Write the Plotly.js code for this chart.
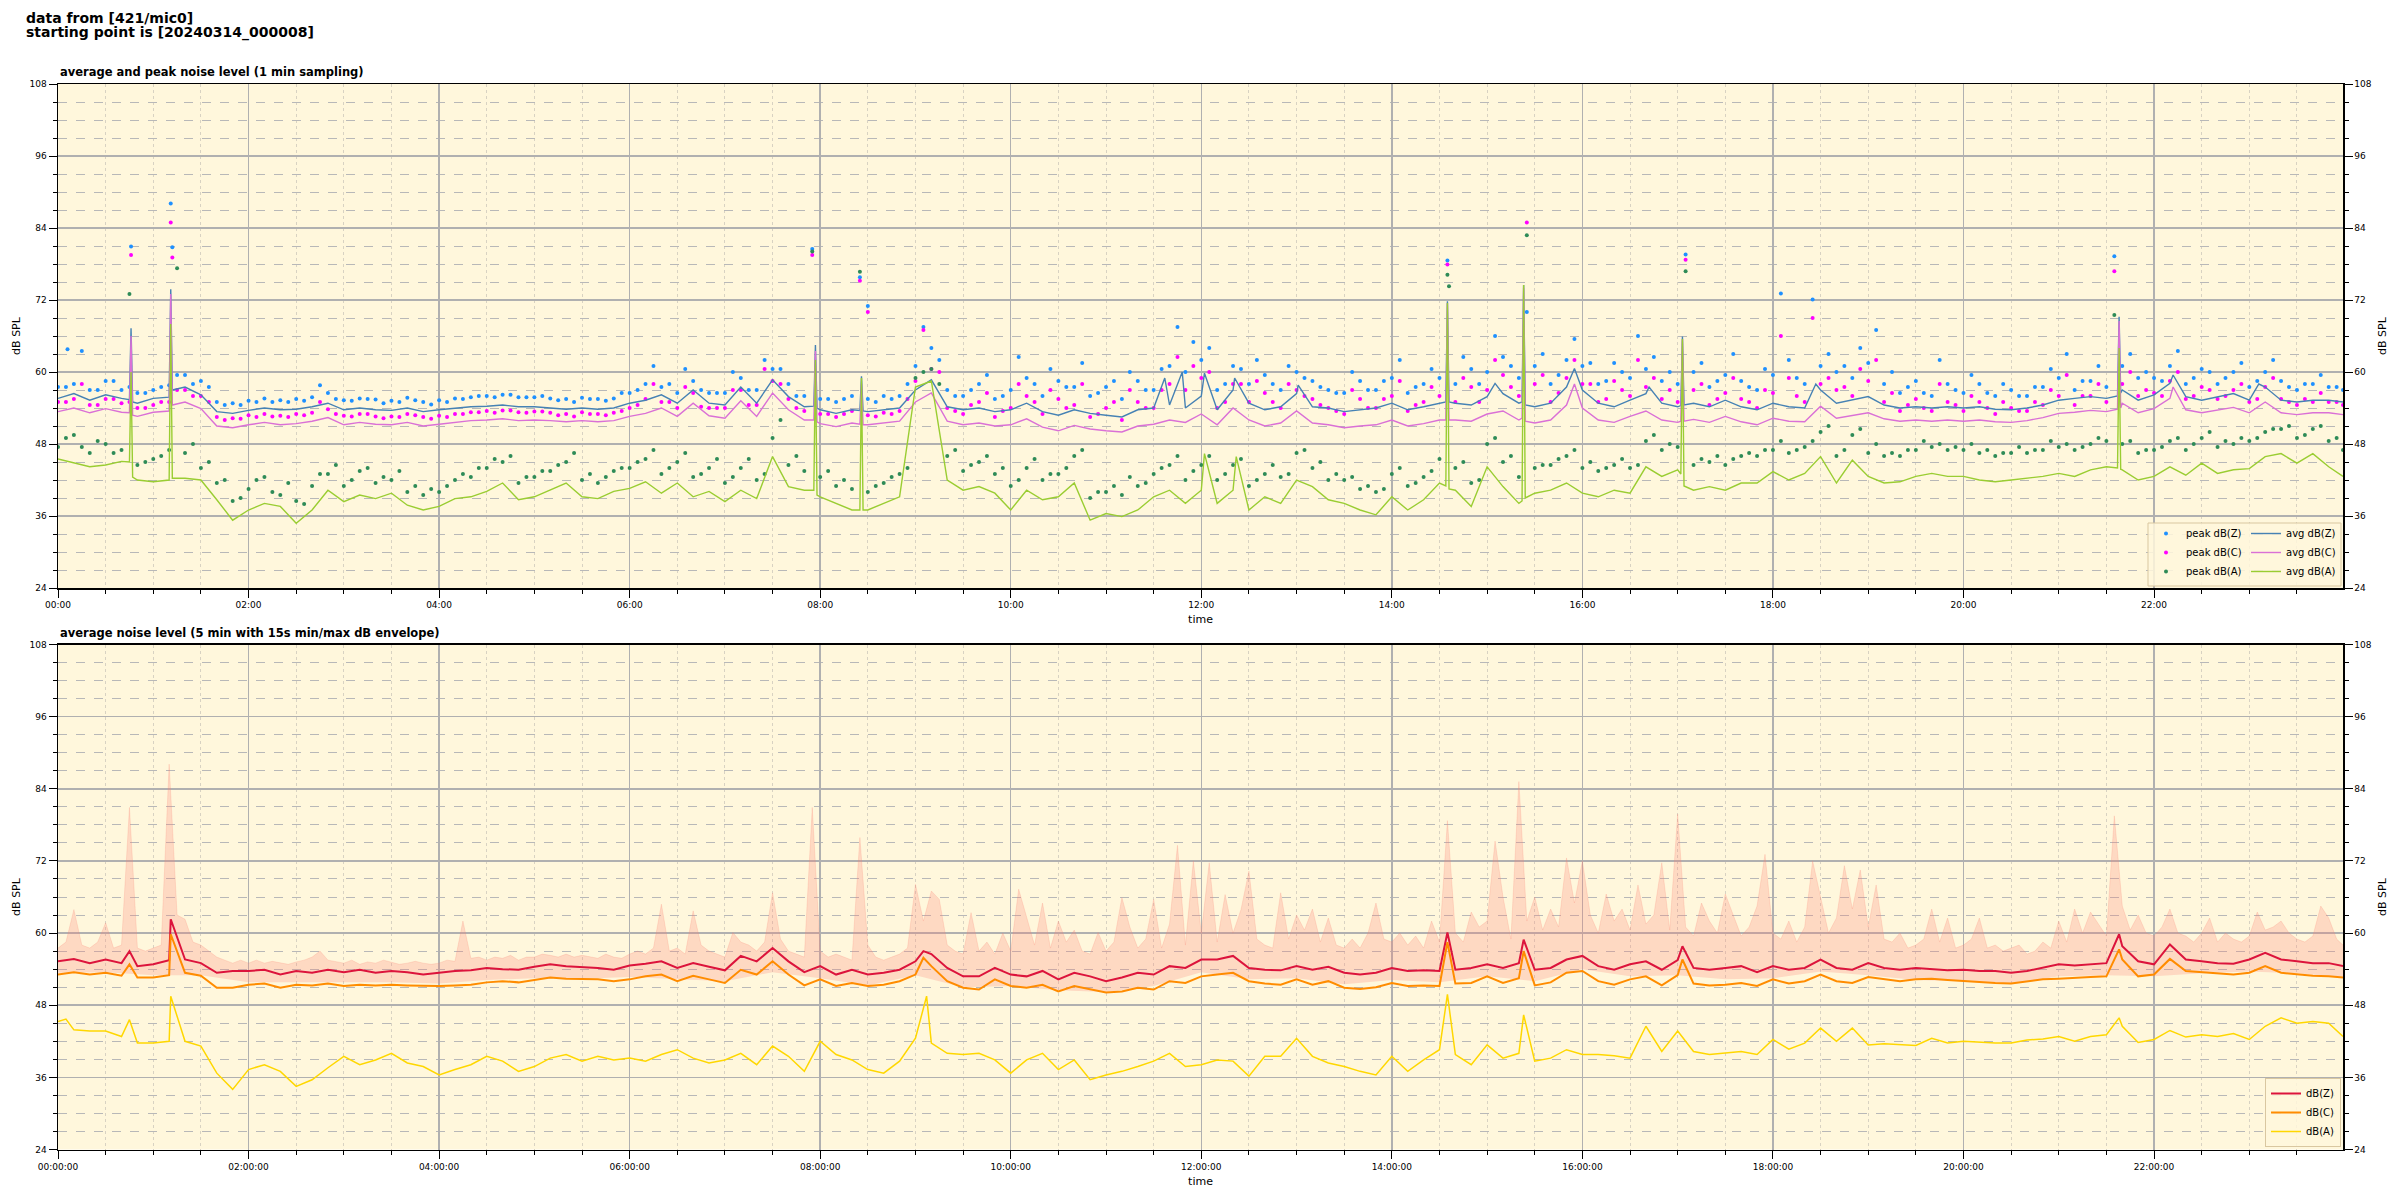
<!DOCTYPE html>
<html>
<head>
<meta charset="utf-8">
<script src="https://cdn.plot.ly/plotly-3.0.1.min.js"></script>
<style>html,body{margin:0;padding:0;background:#fff;}#chart{width:2400px;height:1200px;}</style>
</head>
<body>
<div id="chart"></div>
<script>
// ---------- DATA ----------
const DAY = '2024-03-14';
const suptitleLines = ['data from [421/mic0]', 'starting point is [20240314_000008]'];
const topTitle = 'average and peak noise level (1 min sampling)';
const botTitle = 'average noise level (5 min with 15s min/max dB envelope)';
const yTicks = [24, 36, 48, 60, 72, 84, 96, 108];

// --- top panel: 1-minute averages, sampled every 10 min (00:00 ... 23:50, 23:59)
const avgZ = [
 55.6,56.4,55.3,56.2,55.6,54.8, 55.6,55.8,57.5,56.2,53.4,53.1,
 53.6,54.0,53.7,53.8,54.2,54.8, 53.7,54.0,53.7,53.6,54.0,53.4,
 53.7,54.0,54.2,54.3,54.5,54.2, 54.2,54.0,53.8,54.0,53.8,54.0,
 54.8,55.3,56.2,54.8,57.0,54.8, 54.5,57.5,54.8,58.7,55.9,54.2,
 53.7,53.1,53.7,53.4,53.7,54.0, 57.0,58.7,54.2,53.7,54.0,53.4,
 53.7,54.8,53.4,52.8,53.7,53.1, 52.8,52.5,53.7,54.0,54.5,54.0,
 56.0,53.7,57.0,54.8,53.7,54.2, 56.4,54.2,54.0,53.4,53.7,54.0,
 54.8,53.7,54.2,54.8,54.8,54.5, 55.9,56.4,54.8,54.2,54.8,57.5,
 57.0,54.8,54.2,55.3,56.4,54.8, 54.2,54.8,54.2,55.3,54.2,53.7,
 54.8,54.2,54.0,57.0,54.8,55.3, 55.9,54.5,54.0,54.2,54.0,54.2,
 54.0,54.2,53.8,53.7,54.0,54.5, 55.3,55.6,55.9,55.6,57.0,55.3,
 56.2,58.1,55.9,55.3,55.9,56.4, 55.3,57.5,55.3,55.0,55.3,55.3,
 55.0];
const avgC = [
 53.4,54.0,53.2,53.9,53.3,52.6, 53.3,53.5,55.0,53.9,51.0,50.7,
 51.2,51.6,51.2,51.4,51.8,52.4, 51.2,51.6,51.3,51.2,51.6,51.0,
 51.3,51.6,51.9,52.0,52.2,51.9, 52.0,51.9,51.7,51.9,51.7,51.9,
 52.6,53.1,54.0,52.6,54.8,52.7, 52.3,55.2,52.6,56.5,53.7,52.0,
 51.4,50.9,51.5,51.2,51.5,51.8, 55.0,56.5,51.8,51.2,51.5,51.0,
 51.2,52.2,50.8,50.2,51.1,50.5, 50.2,50.0,51.0,51.3,52.0,51.6,
 53.0,51.2,54.0,52.0,51.0,51.5, 53.5,51.5,51.2,50.7,51.0,51.2,
 52.0,51.0,51.4,52.0,52.0,51.8, 53.0,53.5,52.0,51.5,52.0,54.5,
 54.0,52.0,51.6,52.6,53.5,52.0, 51.6,52.1,51.6,52.6,51.7,51.2,
 52.3,51.8,51.7,54.3,52.3,52.8, 53.2,52.2,51.8,52.0,51.8,52.0,
 51.8,52.0,51.7,51.6,51.9,52.4, 53.1,53.3,53.6,53.4,54.8,53.2,
 53.9,55.6,53.7,53.2,53.7,54.1, 53.2,55.0,53.2,52.9,53.2,53.2,
 52.9];
const avgA = [
 45.5,44.8,44.2,44.5,45.1,42.0, 41.7,42.0,42.3,42.0,38.7,35.3,
 37.0,38.1,37.6,34.8,37.0,40.3, 38.4,39.5,38.9,39.8,37.8,37.0,
 37.6,38.9,39.2,40.1,41.5,38.7, 39.2,40.3,41.5,39.2,38.9,40.1,
 40.6,41.7,39.8,41.5,39.2,40.1, 38.4,40.3,38.9,45.9,40.9,40.3,
 39.2,38.1,37.0,37.0,38.1,39.2, 57.5,58.5,42.0,40.3,40.9,39.8,
 37.0,40.3,38.7,39.2,41.5,35.3, 36.4,35.9,37.0,39.2,40.3,38.1,
 40.3,38.1,40.3,37.0,39.2,38.1, 42.0,40.9,38.7,38.1,37.0,36.2,
 39.2,37.0,38.7,41.5,40.3,37.6, 44.2,40.9,38.1,39.8,40.3,41.5,
 39.8,39.2,40.3,39.8,44.2,42.6, 43.7,40.3,40.9,40.3,41.5,41.5,
 43.4,42.0,43.1,45.9,41.5,45.3, 42.6,41.5,41.7,42.6,43.1,42.6,
 42.6,42.0,41.7,42.0,42.3,42.6, 43.1,42.6,43.7,44.2,43.7,42.0,
 42.6,44.2,42.8,44.8,43.1,43.7, 43.9,45.9,46.4,44.8,46.4,44.2,
 42.6];
// short spikes of the 1-minute averages, with the minutes just before/after (minute of day, value)
const avgZSpikeMin = [45,46,47, 70,71,72, 476,477,478, 505,506,507, 697,708,722,741,781,
  874,875,876, 905, 922,923,924, 955,1002, 1022,1023,1024, 1107, 1297,1298,1299, 1332,1386];
const avgZSpikeVal = [55.4,67.3,55.0, 55.9,73.8,57.0, 54.3,64.5,54.0, 53.6,59.3,53.5, 59.0,60.0,59.8,59.0,57.8,
  55.0,71.8,55.0, 58.1, 55.0,74.5,54.5, 60.6,57.5, 54.4,65.9,54.5, 58.0, 56.0,69.2,56.5, 59.5,58.0];
const avgCSpikeMin = [45,46,47, 70,71,72, 476,477,478, 505,506,507, 874,875,876, 922,923,924,
  955, 1022,1023,1024, 1297,1298,1299, 1332];
const avgCSpikeVal = [53.2,66.0,52.8, 53.6,73.0,54.5, 52.0,63.5,51.7, 51.3,58.0,51.2, 52.0,71.5,52.0, 52.3,74.0,51.8,
  58.0, 51.8,65.5,51.8, 53.8,68.5,54.0, 57.5];
const avgASpikeMin = [45,46,47, 70,71,72, 476,477,478, 505,506,507, 722,742, 874,875,876, 922,923,924,
  1022,1023,1024, 1297,1298,1299];
const avgASpikeVal = [45.0,60.0,42.5, 42.0,68.0,42.3, 40.3,62.0,39.5, 37.0,59.0,37.0, 46.4,45.9, 41.0,71.5,40.5, 38.5,74.5,39.0,
  43.0,65.5,41.0, 44.0,64.0,43.8];

// --- top panel: peak values, sampled at 00:05, 00:15, ... 23:55
const peakZ = [
 57.5,63.5,57.0,58.5,57.5,56.5, 57.5,59.5,58.0,57.5,54.5,54.5,
 55.0,55.0,55.0,55.2,57.8,55.5, 55.2,55.5,54.8,55.0,55.3,54.6,
 55.0,55.5,56.0,55.8,56.2,55.8, 56.0,55.3,55.0,55.5,55.2,56.5,
 57.0,61.0,58.0,60.5,57.0,56.5, 60.0,57.0,62.0,60.5,56.0,80.5,
 55.5,55.5,75.8,55.0,55.5,58.0, 67.5,62.0,56.0,57.0,59.5,56.0,
 62.5,58.0,60.5,57.5,61.5,56.5, 58.5,60.0,57.0,60.5,67.5,65.0,
 64.0,58.0,60.5,62.0,58.0,61.0, 59.0,57.5,56.5,60.0,57.0,58.5,
 62.0,57.5,60.5,78.6,62.5,58.0, 66.0,61.0,70.0,63.0,59.5,65.5,
 61.5,58.5,60.0,66.0,62.5,60.0, 79.6,61.5,58.5,63.0,57.5,60.5,
 73.1,59.0,72.1,63.0,61.0,64.0, 67.0,60.0,57.5,56.5,62.0,57.0,
 59.5,56.5,58.0,56.0,57.5,60.5, 63.0,58.5,61.0,79.3,63.0,60.0,
 58.5,63.5,59.0,60.0,59.0,61.5, 58.5,62.0,57.5,58.0,59.5,57.5];
const peakC = [
 55.0,58.0,54.5,55.5,55.0,54.0, 55.0,57.0,56.0,55.0,52.0,52.2,
 52.5,52.6,52.5,52.8,55.0,53.0, 52.6,53.0,52.3,52.5,52.8,52.2,
 52.5,53.0,53.3,53.2,53.6,53.2, 53.4,52.8,52.6,53.0,52.8,53.5,
 54.5,58.0,55.0,57.5,54.2,54.0, 57.0,54.5,60.5,58.0,54.0,79.5,
 53.0,53.0,75.2,52.6,53.0,55.5, 67.0,60.0,53.5,54.5,56.5,53.5,
 58.0,55.0,57.0,54.0,58.0,53.0, 55.0,57.0,54.0,57.0,62.5,61.0,
 60.0,55.0,58.0,58.5,55.0,58.0, 56.0,54.5,53.5,57.0,54.0,55.5,
 58.5,54.5,57.5,77.9,59.0,55.0, 62.0,57.5,84.9,59.5,56.5,62.0,
 58.0,55.5,57.0,62.0,59.0,57.0, 78.7,58.0,55.5,59.0,55.0,57.0,
 66.0,56.0,69.0,59.0,57.5,60.5, 62.0,56.5,54.5,54.0,58.0,54.5,
 56.0,54.0,55.0,53.5,55.0,57.0, 59.5,56.0,58.0,76.8,60.0,57.0,
 56.0,60.0,56.0,57.0,56.0,58.0, 55.5,59.0,55.0,55.5,56.5,55.0];
const peakA = [
 49.0,47.5,48.5,46.5,73.0,45.0, 46.0,77.3,48.0,45.0,42.0,39.0,
 42.0,40.0,41.5,38.0,43.0,44.5, 42.0,44.0,42.5,43.5,41.0,40.5,
 41.0,43.0,44.0,45.5,46.0,42.5, 43.5,44.5,46.5,43.0,42.5,44.0,
 45.0,47.0,44.0,46.5,43.0,45.5, 42.5,45.5,43.0,52.0,46.0,80.1,
 43.5,42.0,76.7,41.0,42.5,44.0, 60.0,58.0,47.0,44.5,46.0,44.0,
 42.0,45.5,43.0,44.0,47.0,40.0, 41.0,42.5,41.5,44.0,46.0,43.5,
 46.0,43.0,45.5,42.0,44.5,43.0, 47.0,45.0,43.0,42.5,41.0,40.5,
 44.0,41.5,43.5,76.2,45.0,42.0, 49.0,46.0,82.8,44.5,45.5,47.0,
 45.0,44.0,45.5,44.5,49.5,48.0, 76.8,45.5,46.0,45.5,46.5,47.0,
 48.5,47.0,48.5,51.0,47.0,50.5, 48.0,46.5,47.0,48.5,48.0,47.5,
 48.0,47.0,46.5,47.5,47.0,48.5, 48.0,47.5,49.0,69.5,48.5,47.0,
 47.5,49.0,48.0,50.0,48.5,49.0, 49.0,50.5,51.0,49.5,51.0,49.0];
// peak values sampled at 00:00, 00:10, ... 23:50, 23:59
const peakZ2 = [
 57.5,58.0,57.0,58.5,57.0,56.5, 57.0,57.8,59.5,58.5,55.0,54.8,
 55.2,55.6,55.3,55.5,55.8,56.5, 55.3,55.6,55.4,55.2,55.7,55.0,
 55.3,55.6,55.8,56.0,56.2,55.8, 55.8,55.6,55.5,55.7,55.5,55.6,
 56.5,58.0,57.5,56.5,58.5,56.5, 56.5,59.0,57.0,60.5,58.0,56.0,
 55.5,55.0,56.0,55.5,56.0,56.0, 61.0,64.0,57.0,56.0,58.0,55.5,
 57.0,59.0,56.0,58.5,57.5,56.0, 57.5,55.5,58.5,57.0,61.0,60.0,
 62.0,57.0,61.0,58.0,59.5,57.0, 60.0,58.5,57.0,56.5,58.5,57.0,
 59.0,56.5,58.0,59.0,58.0,60.5, 60.0,62.5,59.0,61.0,58.0,62.0,
 61.0,58.0,61.5,59.0,60.5,58.5, 58.0,60.0,57.5,59.5,58.5,57.0,
 59.5,62.0,58.0,61.0,60.0,59.0, 61.5,58.0,56.5,58.5,56.0,58.0,
 56.5,58.0,56.0,57.0,56.0,57.5, 59.0,57.0,58.5,57.5,61.0,59.0,
 59.0,61.0,58.0,60.5,58.0,60.0, 57.5,60.0,58.5,57.0,58.0,57.5,
 57.0];
const peakC2 = [
 55.0,55.5,54.5,55.5,54.8,54.0, 54.5,55.0,57.0,56.0,52.5,52.3,
 52.8,53.0,52.7,53.0,53.2,53.8, 52.7,53.0,52.6,52.6,53.0,52.5,
 52.7,53.0,53.3,53.5,53.6,53.3, 53.4,53.2,53.0,53.3,53.0,53.2,
 54.0,55.5,55.0,54.0,56.5,54.0, 54.0,57.0,54.5,58.5,55.5,53.5,
 53.0,52.5,53.5,52.8,53.2,53.5, 58.5,60.5,54.0,53.0,55.0,52.5,
 54.0,56.0,53.0,55.5,54.5,52.5, 54.0,52.0,55.0,54.0,58.0,57.0,
 59.0,54.0,58.0,55.0,56.5,54.0, 57.0,55.5,54.0,53.0,55.5,54.0,
 56.0,53.5,55.0,56.0,55.0,57.5, 57.0,59.5,56.0,58.0,55.0,59.0,
 58.0,55.0,58.5,56.0,57.5,55.5, 55.0,57.0,54.5,56.5,55.5,54.0,
 56.5,59.0,55.0,58.0,57.0,56.0, 58.5,55.0,53.5,55.5,53.5,55.0,
 53.5,55.0,53.0,54.0,53.5,54.5, 56.0,54.5,56.0,55.0,58.0,56.0,
 56.5,58.5,55.5,57.5,55.5,57.0, 55.0,57.5,55.5,54.5,55.0,55.0,
 54.5];
const peakA2 = [
 47.5,49.5,46.5,48.0,47.0,44.5, 45.5,47.0,46.5,44.0,41.5,38.5,
 40.5,42.5,39.5,38.5,41.0,43.0, 41.0,43.5,41.5,42.0,40.0,39.5,
 40.0,42.0,42.5,44.0,45.0,41.5, 42.5,43.5,45.0,42.0,41.5,43.5,
 44.0,45.5,43.0,45.0,42.5,44.0, 41.5,44.0,42.0,49.0,44.5,43.5,
 42.5,41.0,40.5,40.0,41.5,43.0, 59.0,60.5,46.0,43.5,45.0,43.0,
 41.0,44.0,42.0,43.0,46.0,39.0, 40.0,39.5,41.0,43.0,44.5,42.0,
 44.5,42.0,44.5,41.0,43.0,42.5, 46.5,44.0,42.0,42.0,40.5,40.0,
 43.0,41.0,42.5,45.5,44.0,41.5, 48.0,45.0,42.5,44.0,44.5,46.0,
 44.0,43.5,44.5,44.0,48.5,47.0, 47.5,44.5,45.0,44.5,46.0,46.0,
 47.0,46.5,47.5,50.0,46.0,49.5, 46.5,46.0,46.0,47.0,47.5,47.0,
 47.0,46.5,46.0,46.5,46.5,47.0, 47.5,47.0,48.0,48.5,48.0,46.5,
 47.0,48.5,47.0,49.0,47.5,48.0, 48.5,50.0,50.5,49.0,50.5,48.5,
 47.0];
// isolated extra peaks (minute of day, value)
const peakZExtraMin = [6,46,71,72,510];
const peakZExtraVal = [63.8,80.9,88.1,80.8,71.0];
const peakCExtraMin = [46,71,72,510];
const peakCExtraVal = [79.5,84.9,79.1,70.0];
const peakAExtraMin = [876];
const peakAExtraVal = [74.3];

// --- bottom panel: 5-minute averages, sampled every 10 min (00:00 ... 23:50, 23:59)
const botZ = [
 55.3,55.7,55.0,55.6,55.0,54.5, 54.8,55.5,55.6,55.0,53.4,53.7,
 53.7,53.9,53.1,53.7,53.4,53.9, 53.5,53.9,53.4,53.7,53.5,53.1,
 53.4,53.7,53.8,54.2,54.0,53.9, 54.4,54.8,54.5,54.4,54.2,53.9,
 54.6,54.9,55.3,54.2,55.0,54.4, 53.8,56.2,55.3,57.5,55.3,53.5,
 54.5,53.1,53.9,53.1,53.4,53.9, 55.3,56.5,54.2,52.8,52.8,54.2,
 53.1,52.8,53.7,52.3,53.4,52.8, 52.0,52.6,53.4,53.1,54.5,54.2,
 55.6,55.6,56.2,54.2,53.9,53.8, 54.5,53.9,54.4,53.4,53.1,53.4,
 54.2,53.7,53.8,53.7,53.9,54.2, 54.8,54.2,55.0,53.9,54.2,55.6,
 56.2,54.5,53.9,54.8,55.3,53.9, 55.5,54.2,53.9,54.2,54.5,53.5,
 54.5,53.9,54.2,55.6,54.2,53.9, 55.0,54.2,53.9,54.2,54.0,53.8,
 53.9,53.7,53.7,53.4,53.7,54.2, 54.8,54.6,54.8,55.0,57.8,55.3,
 54.8,58.1,55.6,55.3,55.0,54.9, 55.6,56.7,55.6,55.3,55.0,55.0,
 54.5];
const botC = [
 53.1,53.5,53.1,53.4,52.9,52.6, 52.6,53.0,53.4,52.9,50.9,50.9,
 51.4,51.6,50.9,51.4,51.3,51.6, 51.2,51.4,51.3,51.4,51.3,51.2,
 51.2,51.3,51.4,51.8,52.0,51.8, 52.2,52.6,52.4,52.3,52.3,52.0,
 52.3,52.8,53.1,52.0,52.9,52.3, 51.7,53.9,53.1,55.3,53.1,51.3,
 52.3,51.2,51.7,51.2,51.4,52.0, 53.1,54.5,52.0,50.9,50.6,52.3,
 51.2,50.9,51.4,50.3,51.2,50.6, 50.1,50.3,50.9,50.6,52.0,51.7,
 52.8,53.1,53.4,52.0,51.6,51.4, 52.3,51.4,52.0,50.9,50.7,51.0,
 51.7,51.2,51.3,51.2,51.6,51.7, 52.8,51.7,52.5,51.3,51.8,53.4,
 53.7,52.0,51.4,52.3,52.8,51.3, 53.0,51.6,51.3,51.4,51.7,51.2,
 52.3,51.6,52.0,53.1,52.0,51.7, 52.7,52.3,52.0,52.3,52.4,52.2,
 52.0,51.8,51.7,51.6,52.0,52.3, 52.4,52.6,52.7,52.8,55.6,52.8,
 53.1,55.7,53.7,53.5,53.3,53.1, 53.4,54.5,53.4,53.1,52.9,52.8,
 52.6];
const botA = [
 45.3,43.9,43.7,43.7,42.8,41.7, 41.7,42.0,42.0,41.2,36.7,34.0,
 37.3,38.1,37.0,34.5,35.6,37.6, 39.5,38.1,38.9,40.0,38.4,37.8,
 36.4,37.3,38.1,39.5,38.7,37.0, 37.8,39.2,39.8,38.7,39.5,38.9,
 39.2,38.7,39.8,40.6,39.2,38.4, 38.9,40.0,38.1,41.2,39.5,37.0,
 42.0,39.8,38.9,37.3,36.7,38.7, 42.5,41.7,40.0,39.8,40.0,38.9,
 36.7,38.9,40.0,37.3,38.9,35.6, 36.4,37.0,37.8,38.7,40.0,37.8,
 38.1,38.9,38.7,36.2,39.5,39.5, 42.5,39.5,38.4,37.8,37.0,36.4,
 39.5,37.0,38.9,40.6,39.8,38.1, 41.4,39.2,40.0,38.7,39.2,40.6,
 39.8,39.8,39.6,39.2,44.5,40.3, 43.7,40.3,39.8,40.0,40.3,39.8,
 42.3,40.7,41.7,44.2,42.0,44.2, 41.4,41.6,41.4,41.3,42.5,41.7,
 42.0,41.8,41.7,41.7,42.2,42.4, 42.8,42.0,42.8,43.1,44.5,41.8,
 42.3,43.8,42.7,43.1,42.8,43.3, 42.3,44.5,45.9,45.0,45.3,45.0,
 42.8];
const botZSpikeMin = [45,71,545,875,923,1023,1298];
const botZSpikeVal = [57.0,62.3,57.0,60.1,58.9,57.8,59.8];
const botCSpikeMin = [45,71,545,875,923,1023,1298];
const botCSpikeVal = [54.8,59.8,55.9,58.5,57.0,55.6,57.3];
const botASpikeMin = [5,45,71,547,875,923,1298];
const botASpikeVal = [45.7,45.6,49.5,49.5,49.8,46.4,45.9];

// --- bottom panel: 15 s min/max envelope
// minimum, every 30 min (00:00 ... 23:30, 23:59)
const envMin = [
 53.4,53.5,53.0,53.0,51.8,51.8,51.7,51.8,51.6,52.2,52.5,52.4,
 52.7,52.3,52.0,53.5,52.5,51.3,53.0,51.0,51.2,50.5,50.2,51.2,
 53.5,52.3,52.5,51.5,52.2,51.8,52.8,52.0,54.0,52.8,53.0,52.3,
 52.5,53.6,53.0,52.2,52.0,51.5,52.8,53.0,52.8,53.3,53.6,53.3,
 52.6];
// maximum, every 5 min (00:00 ... 23:55, 23:59)
const envMax = [
 57.5,58.5,63.9,58.0,57.5,58.5,61.7,57.5,58.0,80.9,57.5,57.0,
 57.5,58.0,88.1,63.0,62.3,58.5,58.0,57.0,56.0,55.5,55.0,55.5,
 55.0,55.5,55.0,55.3,55.0,54.8,55.2,55.5,56.0,57.0,55.5,55.3,
 55.0,55.5,54.8,55.2,55.0,55.5,55.2,54.8,55.0,55.3,55.0,54.8,
 55.0,55.5,55.3,62.0,55.8,56.0,55.5,56.0,55.8,56.3,55.5,56.0,
 56.0,56.5,56.3,56.0,56.5,56.0,56.3,56.0,55.8,56.5,56.0,55.8,
 56.5,57.0,56.5,57.5,64.8,57.0,57.5,56.5,63.7,58.0,57.0,56.5,
 56.0,60.1,58.5,58.0,57.0,58.5,66.7,59.0,57.0,56.5,56.0,80.9,
 57.0,56.0,56.5,56.0,55.5,75.9,58.0,56.0,55.5,56.0,56.5,57.5,
 68.1,62.0,67.0,65.6,58.0,57.0,56.5,63.4,57.0,58.5,56.5,60.0,
 57.0,67.3,62.8,58.0,65.0,57.5,62.0,58.5,60.5,57.0,56.5,60.1,
 57.0,58.5,65.9,61.0,57.5,59.0,65.6,57.5,61.5,74.6,58.0,72.0,
 60.0,71.7,58.5,66.4,60.0,63.9,70.3,59.0,58.0,57.5,66.7,59.0,
 63.0,60.5,64.0,58.5,62.5,58.0,57.5,59.0,57.5,60.0,65.0,59.0,
 58.5,60.0,58.0,59.5,57.5,62.0,58.5,78.7,60.0,58.5,63.5,61.0,
 62.0,75.3,66.0,59.0,85.2,62.0,66.0,60.5,64.0,61.0,72.5,65.0,
 72.0,63.0,60.0,66.5,62.0,64.0,60.5,68.0,61.5,63.0,71.7,60.5,
 79.8,61.0,59.5,65.0,62.0,60.0,66.5,63.0,59.5,61.0,64.5,73.1,
 60.0,59.0,62.0,58.5,61.0,72.0,66.0,60.0,62.5,71.2,64.0,70.5,
 61.0,68.0,59.0,58.5,60.0,57.5,58.0,59.0,64.0,58.5,62.5,57.5,
 58.0,59.0,62.5,57.5,58.0,57.0,57.5,58.0,56.5,57.0,58.5,57.5,
 62.0,58.5,64.0,60.0,63.5,61.5,59.5,79.5,64.5,60.5,63.0,60.0,
 59.5,61.0,64.0,60.0,59.5,58.5,60.0,62.5,58.5,60.0,59.0,58.5,
 59.5,63.5,60.5,61.0,62.0,60.0,59.0,58.5,59.5,64.5,62.5,59.0,
 58.0];

// ---------- helpers ----------
function sampleTimes(start, step, extraLast) {
  const out = [];
  for (let m = start; m < 1440; m += step) out.push(m);
  if (extraLast) out.push(1439);
  return out;
}
const T10 = sampleTimes(0, 10, true);
const T10off = sampleTimes(5, 10, false);
const T5 = sampleTimes(0, 5, true);
const T30 = sampleTimes(0, 30, true);

function stamp(m) {
  const h = Math.floor(m / 60), mm = m % 60;
  return DAY + ' ' + String(h).padStart(2, '0') + ':' + String(mm).padStart(2, '0') + ':00';
}
// merge any number of [times, values] pairs into one sorted series
function series(...pairs) {
  const pts = [];
  for (let k = 0; k < pairs.length; k += 2) {
    const tt = pairs[k], vv = pairs[k + 1];
    if (!tt) continue;
    tt.forEach((t, i) => pts.push([t, vv[i]]));
  }
  pts.sort((a, b) => a[0] - b[0]);
  return { x: pts.map(p => stamp(p[0])), y: pts.map(p => p[1]) };
}

// ---------- styling ----------
const FONT = 'DejaVu Sans, Verdana, sans-serif';
const BG = '#fff7dc';
const col = {
  peakZ: '#1e90ff', peakC: '#ff00ff', peakA: '#2e8b57',
  avgZ: '#4682b4', avgC: '#da70d6', avgA: '#9acd32',
  dZ: '#dc143c', dC: '#ff8c00', dA: '#ffd700'
};

const traces = [];
function peakTrace(s, name, color) {
  return { type: 'scatter', mode: 'markers', x: s.x, y: s.y, name: name, legend: 'legend',
    xaxis: 'x', yaxis: 'y', marker: { color: color, size: 4 } };
}
function lineTrace(s, name, color, w, xa, ya, leg) {
  return { type: 'scatter', mode: 'lines', x: s.x, y: s.y, name: name, legend: leg,
    xaxis: xa, yaxis: ya, line: { color: color, width: w } };
}
traces.push(peakTrace(series(T10off, peakZ, T10, peakZ2, peakZExtraMin, peakZExtraVal), 'peak dB(Z)', col.peakZ));
traces.push(peakTrace(series(T10off, peakC, T10, peakC2, peakCExtraMin, peakCExtraVal), 'peak dB(C)', col.peakC));
traces.push(peakTrace(series(T10off, peakA, T10, peakA2, peakAExtraMin, peakAExtraVal), 'peak dB(A)', col.peakA));
// avg lines on the right-hand overlay axis (same scale), drawn above the peak markers
traces.push(lineTrace(series(T10, avgZ, avgZSpikeMin, avgZSpikeVal), 'avg dB(Z)', col.avgZ, 1.4, 'x', 'y3', 'legend2'));
traces.push(lineTrace(series(T10, avgC, avgCSpikeMin, avgCSpikeVal), 'avg dB(C)', col.avgC, 1.4, 'x', 'y3', 'legend2'));
traces.push(lineTrace(series(T10, avgA, avgASpikeMin, avgASpikeVal), 'avg dB(A)', col.avgA, 1.4, 'x', 'y3', 'legend2'));

// envelope (min then max with fill between)
const eMin = series(T30, envMin), eMax = series(T5, envMax);
traces.push({ type: 'scatter', mode: 'lines', x: eMin.x, y: eMin.y, xaxis: 'x2', yaxis: 'y2',
  line: { width: 0, color: 'rgba(250,128,114,0)' }, showlegend: false, hoverinfo: 'skip' });
traces.push({ type: 'scatter', mode: 'lines', x: eMax.x, y: eMax.y, xaxis: 'x2', yaxis: 'y2',
  fill: 'tonexty', fillcolor: 'rgba(250,128,114,0.25)',
  line: { width: 0.7, color: 'rgba(250,128,114,0.30)' }, showlegend: false, name: 'min/max envelope' });
traces.push(lineTrace(series(T10, botZ, botZSpikeMin, botZSpikeVal), 'dB(Z)', col.dZ, 2, 'x2', 'y4', 'legend3'));
traces.push(lineTrace(series(T10, botC, botCSpikeMin, botCSpikeVal), 'dB(C)', col.dC, 2, 'x2', 'y4', 'legend3'));
traces.push(lineTrace(series(T10, botA, botASpikeMin, botASpikeVal), 'dB(A)', col.dA, 1.5, 'x2', 'y4', 'legend3'));

// ---------- layout ----------
const H = 1200, L = 58, R = 57, PW = 2400 - L - R;
const py = px => 1 - px / H;          // paper y from pixel row
const pxX = px => (px - L) / PW;      // paper x from pixel column
const topDom = [py(588), py(84)];
const botDom = [py(1149.5), py(644.5)];
const xRange = [DAY + ' 00:00:00', DAY + ' 23:59:00'];

function xAxis(anchor, fmt) {
  return {
    type: 'date', range: xRange, anchor: anchor, domain: [0, 1],
    tick0: DAY + ' 00:00:00', dtick: 7200000, tickformat: fmt,
    ticks: 'outside', ticklen: 8, tickwidth: 1, tickcolor: '#000',
    showline: true, linecolor: '#000', linewidth: 1.5, mirror: true,
    showgrid: true, gridcolor: '#b0b0b0', gridwidth: 1.5, zeroline: false,
    minor: { dtick: 1800000, ticks: 'outside', ticklen: 4, tickcolor: '#000',
             showgrid: true, gridcolor: '#d8d2c2', gridwidth: 1, griddash: 'dot' },
    tickfont: { family: FONT, size: 9, color: '#000' },
    title: { text: 'time', font: { family: FONT, size: 11, color: '#000' }, standoff: 6 },
    automargin: false, fixedrange: true
  };
}
function yAxis(anchor, dom, side, overlay) {
  const a = {
    range: [24, 108], tickvals: yTicks, anchor: anchor, side: side,
    ticks: 'outside', ticklen: 8, tickwidth: 1, tickcolor: '#000',
    showline: true, linecolor: '#000', linewidth: 1.5,
    zeroline: false, showgrid: !overlay, gridcolor: '#b0b0b0', gridwidth: 1.5,
    minor: { dtick: 3, ticks: 'outside', ticklen: 4, tickcolor: '#000',
             showgrid: !overlay, gridcolor: '#b8b8b8', gridwidth: 1, griddash: 'dash' },
    tickfont: { family: FONT, size: 9, color: '#000' },
    automargin: false, fixedrange: true
  };
  if (overlay) { a.overlaying = overlay; }
  else {
    a.domain = dom; a.mirror = true;
    a.title = { text: 'dB SPL', font: { family: FONT, size: 11, color: '#000' }, standoff: 6 };
  }
  return a;
}

const legendFont = { family: FONT, size: 10, color: '#000' };
const sideTitle = (dom) => ({ text: 'dB SPL', xref: 'paper', yref: 'paper', x: pxX(2382),
  y: (dom[0] + dom[1]) / 2, xanchor: 'center', yanchor: 'middle', textangle: -90, showarrow: false,
  font: { family: FONT, size: 11, color: '#000' } });

const layout = {
  width: 2400, height: 1200,
  margin: { l: L, r: R, t: 0, b: 0, pad: 0 },
  paper_bgcolor: '#ffffff', plot_bgcolor: BG,
  font: { family: FONT, color: '#000' },
  xaxis: xAxis('y', '%H:%M'),
  yaxis: yAxis('x', topDom, 'left'),
  yaxis3: yAxis('x', topDom, 'right', 'y'),
  xaxis2: xAxis('y2', '%H:%M:%S'),
  yaxis2: yAxis('x2', botDom, 'left'),
  yaxis4: yAxis('x2', botDom, 'right', 'y2'),
  showlegend: true,
  legend: { x: pxX(2247), xanchor: 'right', y: py(586), yanchor: 'bottom', traceorder: 'normal',
            bgcolor: 'rgba(0,0,0,0)', borderwidth: 0, font: legendFont, tracegroupgap: 0 },
  legend2: { x: pxX(2341), xanchor: 'right', y: py(586), yanchor: 'bottom', traceorder: 'normal',
             bgcolor: 'rgba(0,0,0,0)', borderwidth: 0, font: legendFont, tracegroupgap: 0 },
  legend3: { x: pxX(2341), xanchor: 'right', y: py(1147), yanchor: 'bottom', traceorder: 'normal',
             bgcolor: 'rgba(255,247,220,0.85)', bordercolor: '#d9c7a0', borderwidth: 1,
             font: legendFont, tracegroupgap: 0 },
  shapes: [{ type: 'rect', xref: 'paper', yref: 'paper', layer: 'above',
             x0: pxX(2148), x1: pxX(2341), y0: py(586), y1: py(523),
             fillcolor: 'rgba(255,247,220,0.85)', line: { color: '#d9c7a0', width: 1 } }],
  annotations: [
    { text: '<b>' + suptitleLines[0] + '</b>', xref: 'paper', yref: 'paper', x: pxX(24), y: py(18),
      xanchor: 'left', yanchor: 'middle', showarrow: false, font: { family: FONT, size: 14, color: '#000' } },
    { text: '<b>' + suptitleLines[1] + '</b>', xref: 'paper', yref: 'paper', x: pxX(24), y: py(33),
      xanchor: 'left', yanchor: 'middle', showarrow: false, font: { family: FONT, size: 14, color: '#000' } },
    { text: '<b>' + topTitle + '</b>', xref: 'paper', yref: 'paper', x: 0, y: topDom[1],
      xanchor: 'left', yanchor: 'bottom', yshift: 3, showarrow: false,
      font: { family: FONT, size: 11.5, color: '#000' } },
    { text: '<b>' + botTitle + '</b>', xref: 'paper', yref: 'paper', x: 0, y: botDom[1],
      xanchor: 'left', yanchor: 'bottom', yshift: 3, showarrow: false,
      font: { family: FONT, size: 11.5, color: '#000' } },
    sideTitle(topDom), sideTitle(botDom)
  ]
};

Plotly.newPlot('chart', traces, layout, { staticPlot: true, displayModeBar: false });
</script>
</body>
</html>
